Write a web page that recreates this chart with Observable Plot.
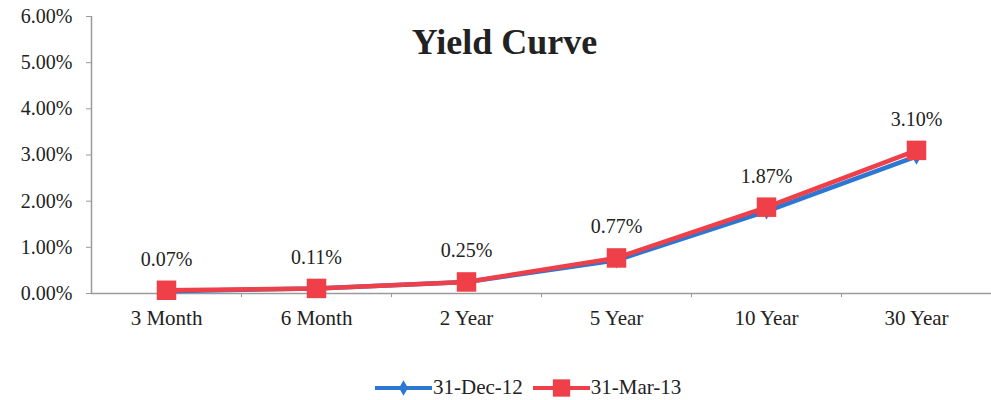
<!DOCTYPE html>
<html>
<head>
<meta charset="utf-8">
<script src="https://cdn.jsdelivr.net/npm/d3@7"></script>
<script src="https://cdn.jsdelivr.net/npm/@observablehq/plot@0.6"></script>
<style>
  html, body { margin: 0; padding: 0; background: #fff; }
  #wrap { position: relative; width: 991px; height: 400px; font-family: "Liberation Serif", "Times New Roman", serif; }
  #legend { position: absolute; left: 375px; top: 375px; display: flex; align-items: center; font-size: 21px; color: #222; }
  #legend .item { display: flex; align-items: center; }
  #legend svg { display: block; }
</style>
</head>
<body>
<div id="wrap">
  <div id="chart"></div>
  <div id="legend"></div>
</div>
<script>
const categories = ["3 Month", "6 Month", "2 Year", "5 Year", "10 Year", "30 Year"];
const dec12 = [0.05, 0.11, 0.25, 0.72, 1.78, 2.97];
const mar13 = [0.07, 0.11, 0.25, 0.77, 1.87, 3.10];
const yTicks = [0, 1, 2, 3, 4, 5, 6];
const seriesNames = ["31-Dec-12", "31-Mar-13"];
const titleText = "Yield Curve";

const blue = "#2b77d3";
const red = "#ef3f49";
const font = '"Liberation Serif", "Times New Roman", serif';

const decData = categories.map((c, i) => ({cat: c, v: dec12[i]}));
const marData = categories.map((c, i) => ({cat: c, v: mar13[i]}));
const bw = (991 - 91) / categories.length;

const plot = Plot.plot({
  width: 991,
  height: 360,
  marginLeft: 91,
  marginRight: 0,
  marginTop: 16,
  marginBottom: 67,
  style: {fontFamily: font, background: "#fff", overflow: "visible"},
  x: {type: "band", domain: categories, padding: 0, label: null},
  y: {domain: [0, 6], label: null},
  marks: [
    Plot.axisY({ticks: yTicks, tickFormat: d => d.toFixed(2) + "%", tickSize: 5, tickPadding: 14, fontSize: 20, fill: "#222", stroke: "#9a9a9a", label: null}),
    Plot.axisX({tickSize: 0, tickPadding: 17, fontSize: 21, fill: "#222", label: null}),
    Plot.ruleX([categories[0]], {y1: 0, y2: 6, dx: -bw / 2, stroke: "#9a9a9a", strokeWidth: 1.5}),
    Plot.ruleY([0], {stroke: "#9a9a9a", strokeWidth: 1.5}),
    Plot.ruleX(categories.slice(1), {y1: 0, y2: -0.09, dx: -bw / 2, stroke: "#9a9a9a"}),
    Plot.line(decData, {x: "cat", y: "v", stroke: blue, strokeWidth: 4.5}),
    Plot.dot(decData, {x: "cat", y: "v", symbol: "diamond", r: 5, fill: blue, stroke: "none"}),
    Plot.line(marData, {x: "cat", y: "v", stroke: red, strokeWidth: 4.5}),
    Plot.dot(marData, {x: "cat", y: "v", symbol: "square", r: 11, fill: red, stroke: "none"}),
    Plot.text(marData, {x: "cat", y: "v", text: d => d.v.toFixed(2) + "%", dy: -31, fontSize: 20, fill: "#222"}),
    Plot.text([titleText], {frameAnchor: "top", dx: -37, dy: 37, lineAnchor: "bottom", fontSize: 36, fontWeight: "bold", fill: "#222"})
  ]
});
document.getElementById("chart").appendChild(plot);

// Legend
const legend = d3.select("#legend");
const items = [
  {name: seriesNames[0], color: blue, symbol: d3.symbolDiamond, size: 70},
  {name: seriesNames[1], color: red, symbol: d3.symbolSquare, size: 300}
];
items.forEach((it, i) => {
  const div = legend.append("div").attr("class", "item").style("margin-right", i === 0 ? "10px" : "0");
  const s = div.append("svg").attr("width", 58).attr("height", 24);
  s.append("line").attr("x1", 0).attr("x2", 57).attr("y1", 12).attr("y2", 12).attr("stroke", it.color).attr("stroke-width", 4);
  s.append("path").attr("d", d3.symbol(it.symbol, it.size)()).attr("transform", "translate(28.5,12)").attr("fill", it.color);
  div.append("span").text(it.name);
});
</script>
</body>
</html>
